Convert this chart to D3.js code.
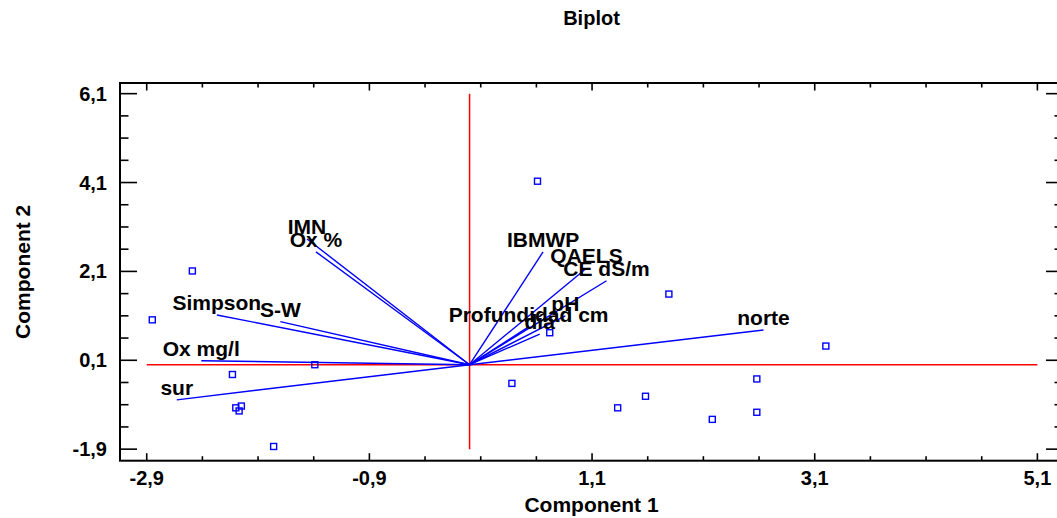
<!DOCTYPE html>
<html>
<head>
<meta charset="utf-8">
<script src="https://cdn.jsdelivr.net/npm/d3@7"></script>
<style>
  body { margin: 0; background: #fff; }
  text { font-family: "Liberation Sans", Arial, sans-serif; font-weight: bold; fill: #000; }
  .tick-label { font-size: 20px; }
  .axis-label { font-size: 21px; }
  .chart-title { font-size: 20px; }
  .vec-label { font-size: 21px; }
</style>
</head>
<body>
<div id="chart"></div>
<script>
// Biplot - component weights (vectors) and observations (points)

// Observations
const pointX = [-2.49, -2.85, -2.13, -1.39, -2.10, -2.05, -2.07, -1.76, 0.72, 0.38, 0.61, 1.79, 3.20, 2.58, 1.58, 1.33, 2.18, 2.58];
const pointY = [2.11, 1.01, -0.22, 0.00, -0.97, -0.93, -1.04, -1.84, 0.72, -0.42, 4.13, 1.59, 0.42, -0.32, -0.71, -0.97, -1.23, -1.07];

// Variable vectors
const vectorNames = ["IMN", "Ox %", "Simpson", "S-W", "Ox mg/l", "sur", "norte", "IBMWP", "QAELS", "CE dS/m", "pH", "Profundidad cm", "día"];
const vectorX = [-1.46, -1.38, -2.27, -1.70, -2.41, -2.63, 2.64, 0.66, 1.05, 1.23, 0.86, 0.53, 0.63];
const vectorY = [2.83, 2.54, 1.12, 0.97, 0.09, -0.79, 0.78, 2.54, 2.17, 1.89, 1.10, 0.85, 0.69];

// Ticks
const xTicks = [-2.9, -0.9, 1.1, 3.1, 5.1];
const yTicks = [-1.9, 0.1, 2.1, 4.1, 6.1];

const width = 1057;
const height = 518;

const margin = { top: 83, right: -6, bottom: 57.3, left: 120 };

const svg = d3.select("#chart")
  .append("svg")
  .attr("width", width)
  .attr("height", height);

const x0 = margin.left;
const x1 = width - margin.right;
const y0 = margin.top;
const y1 = height - margin.bottom;

const xScale = d3.scaleLinear().domain([-3.14, 5.33]).range([x0, x1]);
const yScale = d3.scaleLinear().domain([-2.16, 6.34]).range([y1, y0]);

const fmt = v => d3.format(".1f")(v).replace(".", ",").replace("−", "-");

// minor ticks every 0.5
const xMinor = d3.range(-2.9, 5.11, 0.5).filter(v => !xTicks.some(t => Math.abs(t - v) < 1e-6));
const yMinor = d3.range(-1.9, 6.11, 0.5).filter(v => !yTicks.some(t => Math.abs(t - v) < 1e-6));

const ticks = svg.append("g").attr("stroke", "#000").attr("stroke-width", 1.6);

// bottom + top ticks
xTicks.forEach(v => {
  ticks.append("line").attr("x1", xScale(v)).attr("x2", xScale(v)).attr("y1", y1).attr("y2", y1 - 7.5);
  ticks.append("line").attr("x1", xScale(v)).attr("x2", xScale(v)).attr("y1", y0).attr("y2", y0 + 7.5);
});
xMinor.forEach(v => {
  ticks.append("line").attr("x1", xScale(v)).attr("x2", xScale(v)).attr("y1", y1).attr("y2", y1 - 4.5);
  ticks.append("line").attr("x1", xScale(v)).attr("x2", xScale(v)).attr("y1", y0).attr("y2", y0 + 4.5);
});

// left + right ticks
yTicks.forEach(v => {
  ticks.append("line").attr("y1", yScale(v)).attr("y2", yScale(v)).attr("x1", x0).attr("x2", x0 + 17);
  ticks.append("line").attr("y1", yScale(v)).attr("y2", yScale(v)).attr("x1", x1).attr("x2", x1 - 17);
});
yMinor.forEach(v => {
  ticks.append("line").attr("y1", yScale(v)).attr("y2", yScale(v)).attr("x1", x0).attr("x2", x0 + 8.5);
  ticks.append("line").attr("y1", yScale(v)).attr("y2", yScale(v)).attr("x1", x1).attr("x2", x1 - 8.5);
});

// Frame
svg.append("rect")
  .attr("x", x0).attr("y", y0)
  .attr("width", x1 - x0).attr("height", y1 - y0)
  .attr("fill", "none")
  .attr("stroke", "#000")
  .attr("stroke-width", 2);

// Tick labels
svg.selectAll(".xlab")
  .data(xTicks)
  .enter()
  .append("text")
  .attr("class", "tick-label")
  .attr("x", d => xScale(d))
  .attr("y", y1 + 24.5)
  .attr("text-anchor", "middle")
  .text(fmt);

svg.selectAll(".ylab")
  .data(yTicks)
  .enter()
  .append("text")
  .attr("class", "tick-label")
  .attr("x", x0 - 13)
  .attr("y", d => yScale(d) + 7)
  .attr("text-anchor", "end")
  .text(fmt);

// Red reference axes
svg.append("line")
  .attr("x1", xScale(xTicks[0])).attr("x2", xScale(xTicks[xTicks.length - 1]))
  .attr("y1", yScale(0)).attr("y2", yScale(0))
  .attr("stroke", "#ff0000").attr("stroke-width", 1.5);

svg.append("line")
  .attr("x1", xScale(0)).attr("x2", xScale(0))
  .attr("y1", yScale(yTicks[0])).attr("y2", yScale(yTicks[yTicks.length - 1]))
  .attr("stroke", "#ff0000").attr("stroke-width", 1.5);

// Vectors
const vectors = vectorNames.map((name, i) => ({ name, x: vectorX[i], y: vectorY[i] }));

svg.selectAll(".vec")
  .data(vectors)
  .enter()
  .append("line")
  .attr("x1", xScale(0)).attr("y1", yScale(0))
  .attr("x2", d => xScale(d.x)).attr("y2", d => yScale(d.y))
  .attr("stroke", "#0000ff")
  .attr("stroke-width", 1.4);

// Points
const points = pointX.map((v, i) => ({ x: v, y: pointY[i] }));

svg.selectAll(".pt")
  .data(points)
  .enter()
  .append("rect")
  .attr("x", d => xScale(d.x) - 3)
  .attr("y", d => yScale(d.y) - 3)
  .attr("width", 6)
  .attr("height", 6)
  .attr("fill", "none")
  .attr("stroke", "#0000ff")
  .attr("stroke-width", 1.4);

// Vector labels
svg.selectAll(".vec-label")
  .data(vectors)
  .enter()
  .append("text")
  .attr("class", "vec-label")
  .attr("x", d => xScale(d.x))
  .attr("y", d => yScale(d.y) - 5)
  .attr("text-anchor", "middle")
  .text(d => d.name);

// Title
svg.append("text")
  .attr("class", "chart-title")
  .attr("x", (x0 + x1) / 2)
  .attr("y", 25)
  .attr("text-anchor", "middle")
  .text("Biplot");

// Axis labels
svg.append("text")
  .attr("class", "axis-label")
  .attr("x", (x0 + x1) / 2)
  .attr("y", 512)
  .attr("text-anchor", "middle")
  .text("Component 1");

svg.append("text")
  .attr("class", "axis-label")
  .attr("transform", "rotate(-90)")
  .attr("x", -(y0 + y1) / 2)
  .attr("y", 30)
  .attr("text-anchor", "middle")
  .text("Component 2");
</script>
</body>
</html>
